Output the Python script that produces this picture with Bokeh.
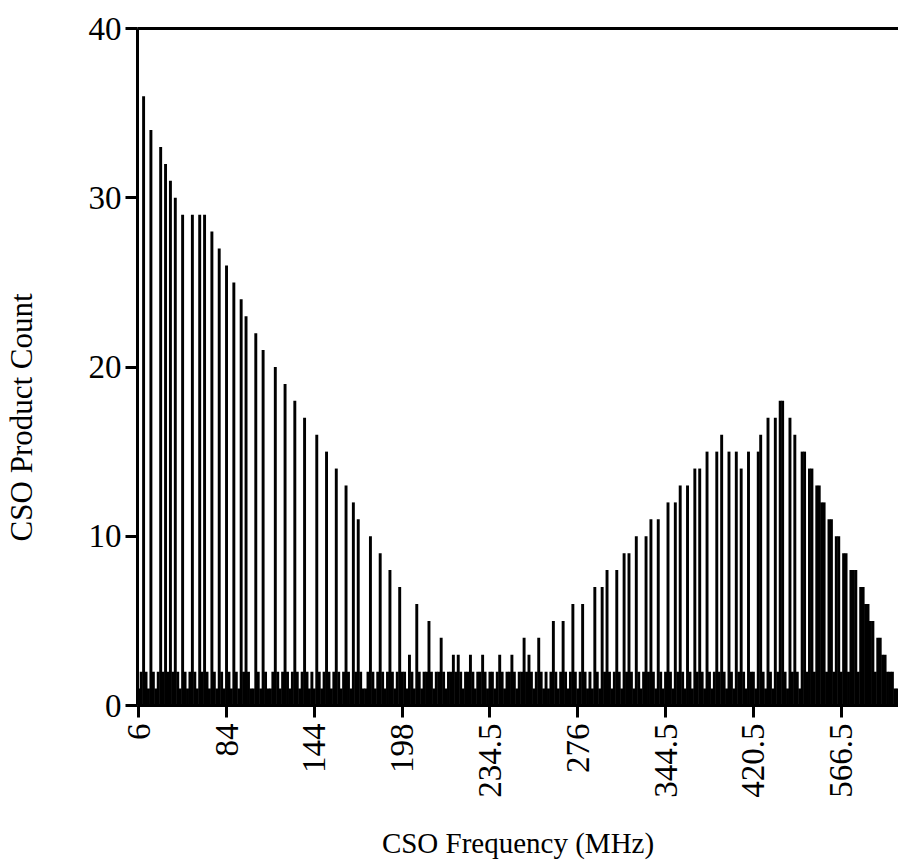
import math
from bokeh.plotting import figure
from bokeh.models import Range1d, FixedTicker, LinearAxis, ColumnDataSource
from bokeh.embed import file_html
from bokeh.resources import INLINE

# Tick labels (CSO frequency, MHz) shown every 36 channels
tick_labels = ["6", "84", "144", "198", "234.5", "276", "344.5", "420.5", "566.5"]
channels_per_label = 36

# CSO product count per frequency channel, one list per labelled interval
counts_6_84 = [1, 2, 36, 2, 1, 34, 2, 1, 2, 33, 2, 32, 2, 31, 2, 30, 2, 1, 29, 2,
               1, 2, 29, 2, 1, 29, 2, 29, 2, 1, 28, 2, 1, 27, 2, 1]
counts_84_144 = [26, 2, 1, 25, 2, 1, 24, 2, 23, 2, 1, 1, 22, 2, 1, 21, 2, 1, 1, 2,
                 20, 2, 1, 2, 19, 2, 1, 2, 18, 2, 1, 2, 17, 2, 1, 2]
counts_144_198 = [1, 16, 2, 1, 2, 15, 2, 1, 2, 14, 2, 1, 2, 13, 2, 1, 12, 2, 11, 2,
                  1, 1, 2, 10, 2, 1, 2, 9, 2, 1, 2, 8, 2, 1, 2, 7]
counts_198_234 = [2, 2, 1, 3, 2, 1, 6, 2, 1, 2, 2, 5, 2, 1, 2, 2, 4, 2, 1, 2,
                  2, 3, 2, 3, 2, 1, 2, 2, 3, 2, 1, 2, 2, 3, 2, 1]
counts_234_276 = [2, 2, 1, 2, 3, 2, 1, 2, 2, 3, 2, 1, 2, 2, 4, 2, 3, 2, 1, 2,
                  4, 2, 1, 2, 1, 2, 5, 2, 1, 2, 5, 2, 1, 2, 6, 2]
counts_276_344 = [1, 2, 6, 2, 1, 2, 1, 7, 2, 1, 7, 2, 8, 2, 1, 2, 8, 2, 1, 9,
                  2, 9, 2, 1, 10, 2, 1, 2, 10, 2, 11, 2, 1, 11, 2, 1]
counts_344_420 = [2, 12, 2, 1, 12, 2, 13, 2, 1, 13, 2, 1, 14, 2, 14, 2, 1, 15, 2, 1,
                  2, 15, 2, 16, 2, 1, 15, 2, 1, 15, 2, 14, 2, 1, 15, 2]
counts_420_566 = [2, 1, 15, 16, 2, 1, 17, 2, 1, 17, 2, 18, 18, 2, 1, 17, 2, 16, 2, 1,
                  15, 15, 2, 14, 14, 2, 13, 13, 12, 12, 2, 11, 11, 2, 10, 10]
counts_566_end = [2, 9, 9, 2, 8, 8, 8, 2, 7, 7, 6, 6, 5, 5, 2, 4, 4, 3, 3, 2,
                  2, 2, 1, 1]

counts = (counts_6_84 + counts_84_144 + counts_144_198 + counts_198_234 +
          counts_234_276 + counts_276_344 + counts_344_420 + counts_420_566 +
          counts_566_end)
channel = list(range(len(counts)))
source = ColumnDataSource(data=dict(channel=channel, count=counts))

FONT = "Liberation Serif"

p = figure(width=898, height=861, output_backend="svg", toolbar_location=None,
           x_range=Range1d(-0.5, len(counts) - 0.5), y_range=Range1d(0, 40),
           min_border_left=136, min_border_right=0, min_border_top=28,
           min_border_bottom=156, outline_line_color=None,
           background_fill_color="white", border_fill_color="white")

p.vbar(x="channel", top="count", width=1.2, bottom=0, source=source,
       fill_color="black", line_color=None)

p.xgrid.visible = False
p.ygrid.visible = False

tick_pos = [i * channels_per_label for i in range(len(tick_labels))]
xa = p.xaxis[0]
xa.ticker = FixedTicker(ticks=tick_pos)
xa.major_label_overrides = {t: lab for t, lab in zip(tick_pos, tick_labels)}
xa.major_label_orientation = math.pi / 2
xa.axis_label = "CSO Frequency (MHz)"

ya = p.yaxis[0]
ya.ticker = FixedTicker(ticks=[0, 10, 20, 30, 40])
# trailing no-break spaces move the visible title below the frame centre,
# as in the original figure
ya.axis_label = "CSO Product Count" + "\u00a0" * 13

for ax in (xa, ya):
    ax.axis_line_width = 3
    ax.axis_line_color = "black"
    ax.major_tick_line_width = 3
    ax.major_tick_line_color = "black"
    ax.major_tick_out = 12
    ax.major_tick_in = 0
    ax.minor_tick_line_color = None
    ax.major_label_text_font = FONT
    ax.major_label_text_font_size = "33px"
    ax.major_label_text_color = "black"
    ax.axis_label_text_font = FONT
    ax.axis_label_text_font_style = "normal"
    ax.axis_label_text_color = "black"

xa.axis_label_text_font_size = "29px"
ya.axis_label_text_font_size = "31px"
xa.major_label_standoff = 6
xa.axis_label_standoff = 26
ya.major_label_standoff = 4
ya.axis_label_standoff = 47

top = LinearAxis(axis_line_width=3, axis_line_color="black",
                 major_tick_line_color=None, minor_tick_line_color=None,
                 major_label_text_font_size="0px", ticker=FixedTicker(ticks=[]))
p.add_layout(top, "above")

open("out.html", "w").write(file_html(p, INLINE))
